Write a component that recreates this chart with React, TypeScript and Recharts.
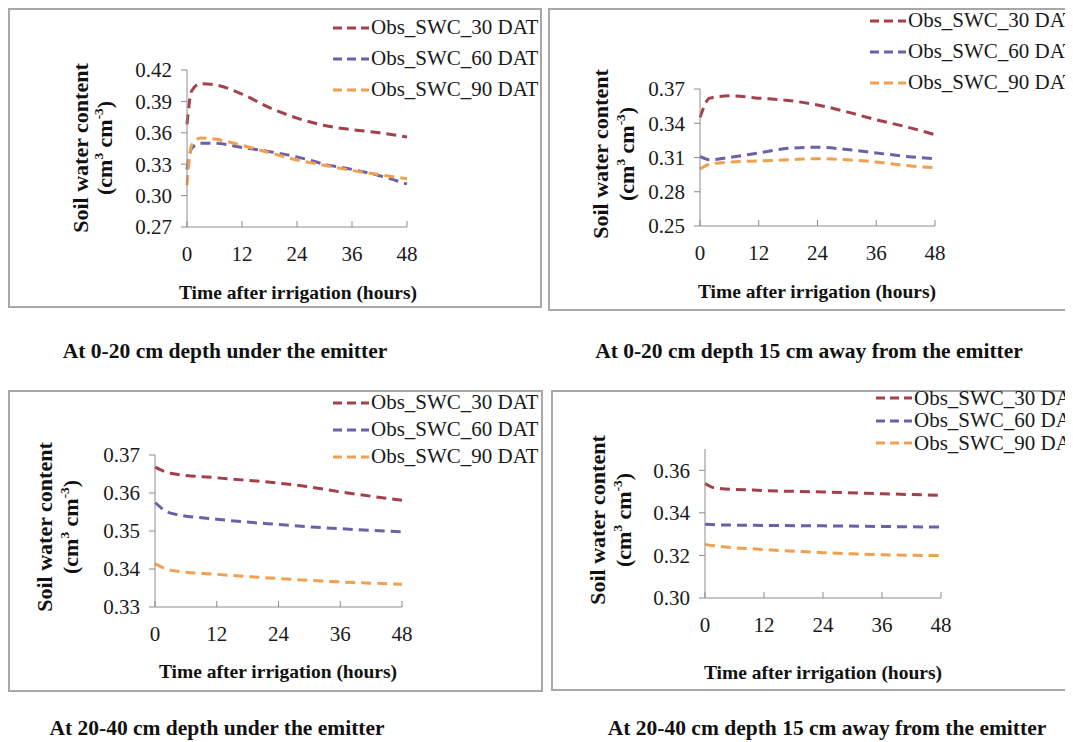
import React from "react";
import { LineChart, Line, XAxis, YAxis, Legend } from "recharts";

// hours after irrigation, one list per panel
const hoursA = [0, 1, 3, 6, 12, 18, 24, 30, 36, 42, 48];
const hoursB = [0, 2, 6, 12, 18, 24, 30, 36, 42, 48];
const hoursC = [0, 3, 12, 24, 30, 36, 48];
const hoursD = [0, 2, 12, 24, 36, 48];

// 0-20 cm under the emitter
const a30 = [0.368, 0.4, 0.407, 0.406, 0.397, 0.384, 0.374, 0.367, 0.363, 0.36, 0.356];
const a60 = [0.325, 0.345, 0.35, 0.35, 0.346, 0.342, 0.337, 0.33, 0.325, 0.319, 0.311];
const a90 = [0.31, 0.348, 0.355, 0.354, 0.348, 0.341, 0.334, 0.329, 0.324, 0.32, 0.316];

// 0-20 cm, 15 cm away
const b30 = [0.345, 0.362, 0.364, 0.362, 0.36, 0.356, 0.35, 0.343, 0.337, 0.33];
const b60 = [0.311, 0.308, 0.31, 0.314, 0.318, 0.319, 0.317, 0.314, 0.311, 0.309];
const b90 = [0.3, 0.304, 0.306, 0.307, 0.308, 0.309, 0.308, 0.306, 0.303, 0.301];

// 20-40 cm under the emitter
const c30 = [0.3668, 0.3652, 0.364, 0.3626, 0.3616, 0.3603, 0.3581];
const c60 = [0.3575, 0.3547, 0.3531, 0.3517, 0.3511, 0.3506, 0.3498];
const c90 = [0.3414, 0.3397, 0.3386, 0.3375, 0.337, 0.3366, 0.336];

// 20-40 cm, 15 cm away
const d30 = [0.3538, 0.3517, 0.3505, 0.3498, 0.349, 0.3482];
const d60 = [0.3346, 0.3344, 0.3341, 0.3339, 0.3336, 0.3333];
const d90 = [0.3252, 0.3245, 0.3228, 0.3213, 0.3203, 0.3199];

const xTicks = [0, 12, 24, 36, 48];
const yTicksA = [0.27, 0.3, 0.33, 0.36, 0.39, 0.42];
const yTicksB = [0.25, 0.28, 0.31, 0.34, 0.37];
const yTicksC = [0.33, 0.34, 0.35, 0.36, 0.37];
const yTicksD = [0.3, 0.32, 0.34, 0.36];

const seriesNames = ["Obs_SWC_30 DAT", "Obs_SWC_60 DAT", "Obs_SWC_90 DAT"];
const colors = ["#a3404b", "#6e60a8", "#f0a04e"];
const captions = [
  "At 0-20 cm depth under the emitter",
  "At 0-20 cm depth 15 cm away from the emitter",
  "At 20-40 cm depth under the emitter",
  "At 20-40 cm depth 15 cm away from the emitter",
];

const FONT = '"Liberation Serif", "Times New Roman", serif';
const AXIS = "#8c8c8c";
const X_MARGIN = 19;

const toRows = (hours: number[], s30: number[], s60: number[], s90: number[]) =>
  hours.map((h, i) => ({ h, s30: s30[i], s60: s60[i], s90: s90[i] }));

const panels = [
  {
    data: toRows(hoursA, a30, a60, a90),
    domain: [0.27, 0.42], ticks: yTicksA,
    x: 0, y: 0, w: 534, h: 300,
    margin: { top: 62, right: 135, bottom: 51, left: 119 },
    legend: { left: 325, top: 4, row: 31 },
    xTitle: [290, 285], yTitle: [73, 96, 140], caption: [217, 344],
  },
  {
    data: toRows(hoursB, b30, b60, b90),
    domain: [0.25, 0.37], ticks: yTicksB,
    x: 540, y: 0, w: 540, h: 303,
    margin: { top: 81, right: 153, bottom: 55, left: 92 },
    legend: { left: 322, top: -3, row: 31 },
    xTitle: [809, 284], yTitle: [593, 618, 146], caption: [801, 344],
  },
  {
    data: toRows(hoursC, c30, c60, c90),
    domain: [0.33, 0.37], ticks: yTicksC,
    x: 0, y: 382, w: 535, h: 302,
    margin: { top: 65, right: 141, bottom: 55, left: 87 },
    legend: { left: 325, top: -1, row: 27 },
    xTitle: [270, 664], yTitle: [37, 62, 519], caption: [209, 721],
  },
  {
    data: toRows(hoursD, d30, d60, d90),
    domain: [0.3, 0.37], ticks: yTicksD,
    x: 543, y: 382, w: 535, h: 301,
    margin: { top: 59, right: 145, bottom: 63, left: 94 },
    legend: { left: 325, top: -3, row: 22.5 },
    xTitle: [815, 665], yTitle: [590, 615, 512], caption: [819, 721],
  },
];

const XTick = (props: any) => {
  const { x, y, payload } = props;
  const ay = y - X_MARGIN;
  return (
    <g>
      <line x1={x} x2={x} y1={ay} y2={ay - 6} stroke={AXIS} />
      <text x={x} y={y} dy="0.71em" textAnchor="middle" fontSize={21} fontFamily={FONT} fill="#1a1a1a">
        {payload.value}
      </text>
    </g>
  );
};

const LegendBox = ({ row }: { row: number }) => (
  <div style={{ fontFamily: FONT, fontSize: 21, color: "#1a1a1a" }}>
    {seriesNames.map((name, i) => (
      <div key={name} style={{ height: row, display: "flex", alignItems: "center", whiteSpace: "nowrap" }}>
        <svg width={38} height={6}>
          <line x1={0} x2={36} y1={3} y2={3} stroke={colors[i]} strokeWidth={3} strokeDasharray="9 5" />
        </svg>
        <span>{name}</span>
      </div>
    ))}
  </div>
);

const Centered = ({ x, y, rotate, size, children }: any) => (
  <div
    style={{
      position: "absolute",
      left: x,
      top: y,
      transform: `translate(-50%, -50%)${rotate ? " rotate(-90deg)" : ""}`,
      whiteSpace: "nowrap",
      fontFamily: FONT,
      fontWeight: "bold",
      fontSize: size,
      color: "#111",
      lineHeight: 1,
    }}
  >
    {children}
  </div>
);

export default function App() {
  return (
    <div style={{ position: "relative", width: 1065, height: 734, overflow: "hidden", background: "#fff" }}>
      {panels.map((p, k) => (
        <React.Fragment key={k}>
          <div
            style={{
              position: "absolute", left: p.x, top: p.y, width: p.w, height: p.h,
              border: "2px solid #a8a8a8", boxSizing: "border-box",
            }}
          />
          <div style={{ position: "absolute", left: p.x, top: p.y }}>
            <LineChart width={p.w} height={p.h} data={p.data} margin={p.margin}>
              <XAxis
                dataKey="h" type="number" domain={[0, 48]} ticks={xTicks}
                height={30} stroke={AXIS} tickLine={false} tickSize={0} tickMargin={X_MARGIN}
                tick={<XTick />} interval={0}
              />
              <YAxis
                type="number" domain={p.domain} ticks={p.ticks} width={60} interval={0}
                stroke={AXIS} tickSize={6} tickMargin={9} allowDataOverflow
                tick={{ fontSize: 21, fontFamily: FONT, fill: "#1a1a1a" }}
                tickFormatter={(v: number) => v.toFixed(2)}
              />
              <Legend
                layout="vertical" align="center" verticalAlign="middle"
                wrapperStyle={{ left: p.legend.left, top: p.legend.top, width: "auto" }}
                content={() => <LegendBox row={p.legend.row} />}
              />
              {["s30", "s60", "s90"].map((key, i) => (
                <Line
                  key={key} dataKey={key} name={seriesNames[i]} type="monotone"
                  stroke={colors[i]} strokeWidth={3} strokeDasharray="10 6"
                  dot={false} isAnimationActive={false}
                />
              ))}
            </LineChart>
          </div>
          <Centered x={p.xTitle[0]} y={p.xTitle[1]} size={19.5}>Time after irrigation (hours)</Centered>
          <Centered x={p.yTitle[0]} y={p.yTitle[2]} size={22} rotate>Soil water content</Centered>
          <Centered x={p.yTitle[1]} y={p.yTitle[2]} size={22} rotate>
            (cm<sup style={{ fontSize: "0.6em" }}>3</sup> cm<sup style={{ fontSize: "0.6em" }}>-3</sup>)
          </Centered>
          <Centered x={p.caption[0]} y={p.caption[1]} size={21.5}>{captions[k]}</Centered>
        </React.Fragment>
      ))}
    </div>
  );
}
